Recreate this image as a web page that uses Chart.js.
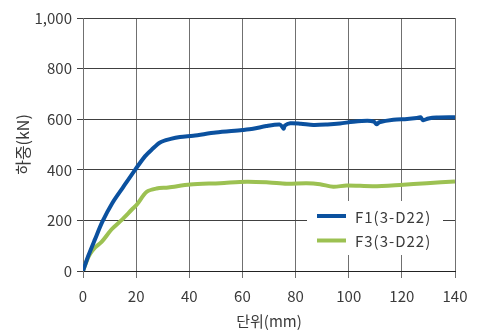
<!DOCTYPE html>
<html>
<head>
<meta charset="utf-8">
<script src="https://cdn.jsdelivr.net/npm/chart.js@4/dist/chart.umd.min.js"></script>
<style>
  html, body { margin: 0; padding: 0; background: #fff; }
  #wrap { width: 478px; height: 333px; }
</style>
</head>
<body>
<div id="wrap"><canvas id="grafico" width="478" height="333"></canvas></div>
<script>
// F1(3-D22)
const f1X = [0, 2, 4.5, 7.3, 11, 15, 19.6, 23.4, 25.9, 29, 33, 36.5, 41.5, 50, 60, 64, 69, 74, 75, 75.5, 76, 78, 82, 86.7, 92, 96.7, 101.7, 107, 109.5, 110.5, 111.5, 116.8, 122, 125.6, 127, 128, 130, 133, 140];
const f1Y = [0, 60, 125, 195, 268, 330, 400, 454, 480, 508, 522, 530, 535, 547, 557, 562, 573, 579, 570, 562, 575, 584, 582, 577, 579, 583, 590, 594, 590, 580, 588, 598, 601, 605, 608, 596, 603, 607, 608];
// F3(3-D22)
const f3X = [0, 1.4, 2.6, 4.5, 7, 10.8, 14.6, 18.3, 20.2, 24, 27.7, 32.1, 40.3, 51.6, 61.6, 70, 76.7, 84.2, 89.2, 94.2, 99.2, 109.2, 119.3, 129.4, 140];
const f3Y = [0, 40, 66, 92, 115, 165, 202, 242, 262, 313, 326, 330, 342, 347, 353, 350, 345, 347, 343, 333, 338, 335, 340, 347, 354];
const xTicks = [0, 20, 40, 60, 80, 100, 120, 140];
const yTicks = [0, 200, 400, 600, 800, 1000];

const fuente = "'Noto Sans CJK KR', 'Noto Sans', sans-serif";
const azul = '#0b519f';
const verde = '#9cc152';
const texto = '#3a3a3a';

function puntos(xs, ys) { return xs.map((x, i) => ({ x: x, y: ys[i] })); }

// legend drawn inside the plot, under the lines
const leyendaInterna = {
  id: 'leyendaInterna',
  beforeDatasetsDraw(chart) {
    const ctx = chart.ctx;
    ctx.save();
    ctx.fillStyle = '#fff';
    ctx.fillRect(307, 201, 136, 54);
    ctx.font = '15px ' + fuente;
    ctx.letterSpacing = '1px';
    ctx.textBaseline = 'middle';
    chart.data.datasets.forEach((ds, i) => {
      const y = 216 + i * 24.5;
      ctx.strokeStyle = ds.borderColor;
      ctx.lineWidth = 4;
      ctx.beginPath(); ctx.moveTo(317, y); ctx.lineTo(346, y); ctx.stroke();
      ctx.fillStyle = texto;
      ctx.fillText(ds.label, 355, y + 1);
    });
    ctx.restore();
  }
};

new Chart(document.getElementById('grafico').getContext('2d'), {
  type: 'line',
  data: {
    datasets: [
      { label: 'F1(3-D22)', data: puntos(f1X, f1Y), borderColor: azul, borderWidth: 4, pointRadius: 0, tension: 0.3, fill: false },
      { label: 'F3(3-D22)', data: puntos(f3X, f3Y), borderColor: verde, borderWidth: 4, pointRadius: 0, tension: 0.3, fill: false }
    ]
  },
  options: {
    responsive: false,
    animation: false,
    layout: { padding: { top: 18, right: 23, left: 0, bottom: 0 } },
    plugins: { legend: { display: false }, tooltip: { enabled: false } },
    scales: {
      x: {
        type: 'linear', min: 0, max: 140,
        afterBuildTicks: s => { s.ticks = xTicks.map(v => ({ value: v })); },
        afterFit: s => { s.height = 62; },
        grid: { color: '#707070', lineWidth: 1, tickLength: 7 },
        border: { color: '#222', width: 1 },
        ticks: { color: texto, font: { family: fuente, size: 15 }, padding: 9, maxRotation: 0 },
        title: { display: true, text: '단위(mm)', color: texto, font: { family: fuente, size: 15 }, padding: { top: 0, bottom: 3 } }
      },
      y: {
        min: 0, max: 1000,
        afterBuildTicks: s => { s.ticks = yTicks.map(v => ({ value: v })); },
        afterFit: s => { s.width = 83; },
        grid: { color: '#404040', lineWidth: 1, tickLength: 6 },
        border: { color: '#707070', width: 1 },
        ticks: { color: texto, font: { family: fuente, size: 15 }, padding: 5, callback: v => v.toLocaleString('en-US') },
        title: { display: true, text: '하중(kN)', color: texto, font: { family: fuente, size: 16 }, padding: { top: 13, bottom: 0 } }
      }
    }
  },
  plugins: [leyendaInterna]
});
</script>
</body>
</html>
